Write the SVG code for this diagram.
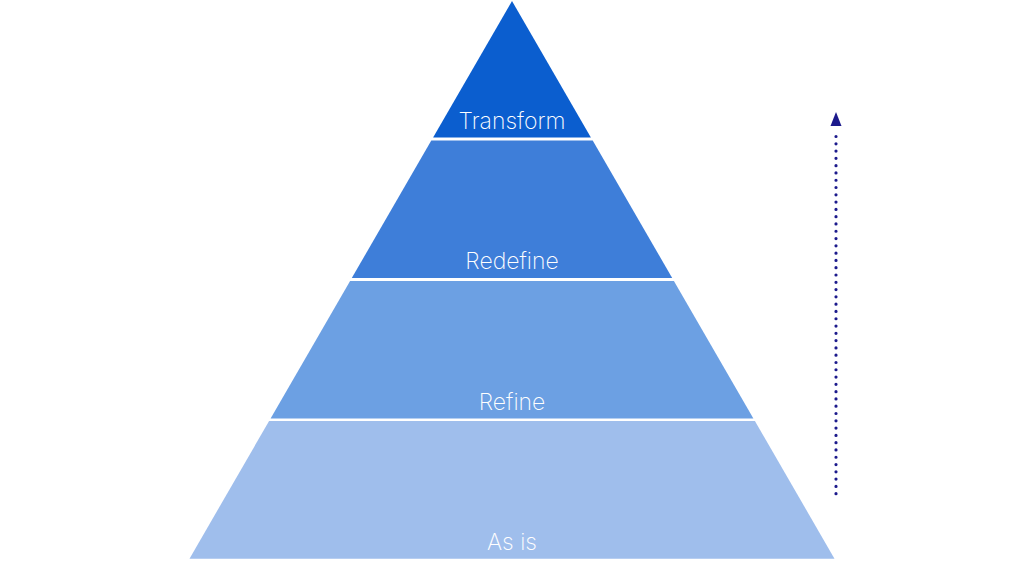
<svg xmlns="http://www.w3.org/2000/svg" width="1024" height="576" viewBox="0 0 1024 576">
  <style>
    .lbl { font-family: Inter, Roboto, "Liberation Sans", sans-serif; font-weight: 200; font-size: 23px; fill: #ffffff; text-anchor: middle; }
  </style>
  <rect width="1024" height="576" fill="#ffffff"/>
  <g id="layer-transform">
    <polygon points="512,1 590.9,137.5 433.1,137.5" fill="#0b5ecf"/>
    <text class="lbl" x="512" y="129">Transform</text>
  </g>
  <g id="layer-redefine">
    <polygon points="431.3,140.5 592.7,140.5 672.2,278 351.8,278" fill="#3e7ed9"/>
    <text class="lbl" x="512" y="268.5">Redefine</text>
  </g>
  <g id="layer-refine">
    <polygon points="350.1,281 673.9,281 753.4,418.5 270.6,418.5" fill="#6ca0e3"/>
    <text class="lbl" x="512" y="409.5">Refine</text>
  </g>
  <g id="layer-asis">
    <polygon points="269.1,421 754.9,421 834.5,558.7 189.5,558.7" fill="#9fbeec"/>
    <text class="lbl" x="512" y="550">As is</text>
  </g>
  <g id="connectors">
    <line x1="836" y1="493.7" x2="836" y2="129.3" stroke="#1c1a8c" stroke-width="3.2" stroke-linecap="round" stroke-dasharray="0 7.29"/>
    <path d="M830.5,126 L836,112 L841.5,126 Z" fill="#1c1a8c"/>
  </g>
</svg>
